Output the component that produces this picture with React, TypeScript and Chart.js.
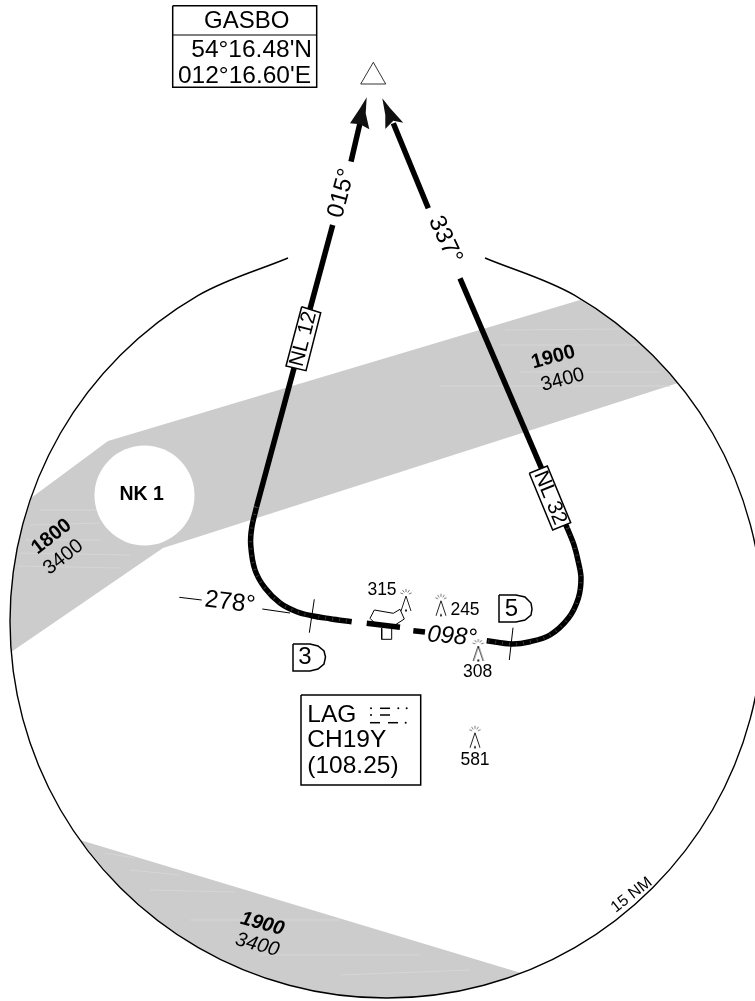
import React, { useEffect, useRef } from "react";
import { Chart, registerables } from "chart.js";

Chart.register(...registerables);

type P = [number, number];

const ring: P[] = [[485,258],[574.75,295.4],[652.7,355.3],[712.6,433.25],[750.2,524.1],[763,621.5],[750.2,718.9],[712.6,809.75],[652.7,887.7],[574.75,947.6],[483.9,985.2],[386.5,998],[289.1,985.2],[198.25,947.6],[120.3,887.7],[60.4,809.75],[22.8,718.9],[10,621.5],[22.8,524.1],[60.4,433.25],[120.3,355.3],[198.25,295.4],[288,258]];
const upperBand: P[] = [[580,300],[108,441],[31,498],[21.3,530],[15.1,560],[11.3,590],[10,620],[11.2,652],[163,548],[182,542],[678,383],[656.5,359],[631.5,335.6],[606.5,316]];
const lowerBand: P[] = [[80,840],[521,973],[486.5,984.5],[436.5,994.7],[386.5,998],[336.5,994.7],[286.5,984.5],[236.5,966.8],[196.5,946.5],[156.5,919.6],[116.5,883.9]];
const holdingClear: P[] = [[144.5,495.5]];
const bandStreaks: P[][] = [
  [[40,510],[105,510]],
  [[30,525],[100,523]],
  [[25,540],[100,540]],
  [[20,553],[130,555]],
  [[18,566],[120,568]],
  [[505,330],[620,329]],
  [[500,345],[640,345]],
  [[520,372],[660,372]],
  [[440,386],[670,386]],
  [[105,853],[135,858]],
  [[130,870],[180,875]],
  [[150,890],[235,892]],
  [[190,920],[340,920]],
  [[260,955],[420,955]],
  [[340,975],[470,970]],
];

const leftUpper: P[] = [[360,123],[351,161.7]];
const leftLower: P[] = [[332.7,225],[256.5,507]];
const leftTurn: P[] = [[256.5,507],[251.7,528],[250.7,545],[255,570],[265,588],[280,603],[296.7,611.7],[311.7,615.7],[330,618.7],[351.7,621.7]];
const rightUpper: P[] = [[393.3,123.3],[428.3,208.3]];
const rightLower: P[] = [[460,278.3],[567.3,528.3]];
const rightTurn: P[] = [[567.3,528.3],[574,545],[578.3,561.7],[581,578.3],[578.3,598.3],[568.3,618.3],[550,635],[530,641.7],[511.7,644],[486.7,640.7]];
const runwayA: P[] = [[366.7,623.3],[400,627.3]];
const runwayB: P[] = [[413.3,630.7],[425,632]];
const leftArrow: P[] = [[366.7,97.3],[365.7,113.3],[369.3,129.3],[360,124.3],[350,123.3],[360,108.3]];
const rightArrow: P[] = [[382.3,98.3],[390,108],[403.3,122.7],[393.3,120.7],[385,129.3],[385.3,115]];
const fixTriangle: P[] = [[373.3,62.3],[360.7,84],[385.7,84],[373.3,62.3]];

const tickLeft: P[] = [[314.3,599.3],[309.3,632.7]];
const tickRight: P[] = [[513,627.7],[509.3,660]];
const leaderA: P[] = [[179.3,597.3],[201.7,600]];
const leaderB: P[] = [[262.3,609],[290,613]];
const airportOutline: P[] = [[376.7,625],[370,618.3],[374.3,610],[393.3,613.3],[400,609.3],[404.3,619],[395,625]];
const airportStem: P[] = [[381.7,628.3],[381.7,639.3],[391.7,639.3],[391.7,628.3]];

const fixBox: P[] = [[172.7,5.7],[316.7,5.7],[316.7,87.3],[172.7,87.3],[172.7,5.7]];
const fixDivider: P[] = [[172.7,35],[316.7,35]];
const navBox: P[] = [[301,695],[420.7,695],[420.7,785],[301,785],[301,695]];
const airwayBoxA: P[] = [[301.7,306.7],[320.7,312.7],[306,370.7],[286,366],[301.7,306.7]];
const airwayBoxB: P[] = [[529.3,473.3],[547.3,466],[570.7,522.7],[552.7,530],[529.3,473.3]];
const sectorBox3: P[] = [[293,644],[310,644],[318,646],[324,651],[325.5,657],[324,664],[318,669],[310,671],[293,671],[293,644]];
const sectorBox5: P[] = [[499,595],[516,595],[525,597],[531,603],[532,609],[531,615],[525,620],[516,622],[499,622],[499,595]];

const morseDashes: P[][] = [
  [[380,708.3],[390,708.3]],
  [[380,715],[390,715]],
  [[370,722.7],[380,722.7]],
  [[388,722.7],[398,722.7]],
];
const morseDots: P[] = [[371,708.3],[398.3,708.3],[406.7,708.3],[371,715],[405.7,722.7]];
const obstacles: P[] = [[406,600],[441,604.7],[478.3,650],[475,736.7]];

type Label = { t: string; x: number; y: number; r: number; f: string };
const labels: Label[] = [
  { t: "GASBO", x: 246.7, y: 21, r: 0, f: "24px" },
  { t: "015°", x: 341.7, y: 193.3, r: -75, f: "24px" },
  { t: "337°", x: 445, y: 240, r: 65, f: "24px" },
  { t: "NL 12", x: 303.6, y: 339, r: -75.5, f: "21px" },
  { t: "NL 32", x: 550, y: 498, r: 67.6, f: "21px" },
  { t: "278°", x: 230, y: 602.7, r: 7, f: "24.5px" },
  { t: "098°", x: 452, y: 636.7, r: 5, f: "italic 24px" },
  { t: "3", x: 305, y: 657.5, r: 0, f: "24px" },
  { t: "5", x: 511.5, y: 609, r: 0, f: "24px" },
  { t: "NK 1", x: 141.7, y: 495, r: 0, f: "bold 19.5px" },
  { t: "1900", x: 553.3, y: 357.3, r: -15, f: "bold 20px" },
  { t: "3400", x: 562.7, y: 380, r: -15, f: "20px" },
  { t: "1800", x: 51.7, y: 536.7, r: -38, f: "bold 20px" },
  { t: "3400", x: 63.3, y: 557.3, r: -38, f: "20px" },
  { t: "1900", x: 262.3, y: 924, r: 15, f: "italic bold 20px" },
  { t: "3400", x: 257.3, y: 945, r: 15, f: "italic 20px" },
  { t: "15 NM", x: 631.7, y: 895, r: -38, f: "16px" },
  { t: "315", x: 382, y: 590, r: 0, f: "17.5px" },
  { t: "245", x: 465, y: 610.5, r: 0, f: "17.5px" },
  { t: "308", x: 477.7, y: 672, r: 0, f: "17.5px" },
  { t: "581", x: 475, y: 760, r: 0, f: "17.5px" },
];
const leftTexts: Label[] = [
  { t: "LAG", x: 307.3, y: 721.7, r: 0, f: "24.5px" },
  { t: "CH19Y", x: 307.3, y: 747.3, r: 0, f: "24.5px" },
  { t: "(108.25)", x: 307.3, y: 773, r: 0, f: "24.5px" },
];
const rightTexts: Label[] = [
  { t: "54°16.48'N", x: 312, y: 57, r: 0, f: "24.5px" },
  { t: "012°16.60'E", x: 311, y: 82.7, r: 0, f: "24.5px" },
];

const FAMILY = '"Liberation Sans", Arial, sans-serif';

function obstacleIcon(): HTMLCanvasElement {
  const c = document.createElement("canvas");
  c.width = 24;
  c.height = 30;
  const g = c.getContext("2d")!;
  g.strokeStyle = "#222";
  g.lineWidth = 1;
  g.beginPath();
  g.moveTo(7, 26);
  g.lineTo(12, 11);
  g.lineTo(17, 26);
  g.stroke();
  g.fillStyle = "#222";
  g.fillRect(11, 24.5, 2, 2);
  g.strokeStyle = "#777";
  [-70, -35, 0, 35, 70].forEach((a) => {
    const s = (a * Math.PI) / 180;
    g.beginPath();
    g.moveTo(12 + Math.sin(s) * 3, 10 - Math.cos(s) * 3);
    g.lineTo(12 + Math.sin(s) * 6, 10 - Math.cos(s) * 6);
    g.stroke();
  });
  return c;
}

const textPlugin = {
  id: "mapText",
  afterDatasetsDraw(chart: any) {
    const { ctx, scales } = chart;
    const put = (l: Label, align: CanvasTextAlign, base: CanvasTextBaseline) => {
      ctx.save();
      ctx.translate(scales.x.getPixelForValue(l.x), scales.y.getPixelForValue(l.y));
      ctx.rotate((l.r * Math.PI) / 180);
      ctx.font = `${l.f} ${FAMILY}`;
      ctx.fillStyle = "#000";
      ctx.textAlign = align;
      ctx.textBaseline = base;
      ctx.fillText(l.t, 0, 0);
      ctx.restore();
    };
    labels.forEach((l) => put(l, "center", "middle"));
    leftTexts.forEach((l) => put(l, "left", "alphabetic"));
    rightTexts.forEach((l) => put(l, "right", "alphabetic"));
  },
};

export default function App() {
  const ref = useRef<HTMLCanvasElement>(null);
  useEffect(() => {
    const line = (pts: P[], o: any = {}) => ({
      type: "line",
      data: pts.map(([x, y]) => ({ x, y })),
      borderColor: "#000",
      borderWidth: 1,
      pointRadius: 0,
      fill: false,
      tension: 0,
      borderCapStyle: "butt",
      ...o,
    });
    const area = (pts: P[], color: string) =>
      line(pts, { fill: "shape", backgroundColor: color, borderWidth: 0, borderColor: color });
    const box = (pts: P[], w = 1.5) => line(pts, { fill: "shape", backgroundColor: "#fff", borderWidth: w });
    const track = (pts: P[]) => line(pts, { borderWidth: 5.5 });
    const turn = (pts: P[]) => line(pts, { borderWidth: 5.5, tension: 0.35 });
    const hatch = (pts: P[]) => line(pts, { borderWidth: 3, tension: 0.35, borderColor: "#3a3a3a", borderDash: [1, 6] });

    const layers: any[] = [
      area(upperBand, "#cccccc"),
      area(lowerBand, "#cccccc"),
      ...bandStreaks.map((s) => line(s, { borderColor: "#d6d6d6", borderWidth: 1 })),
      line(holdingClear, { showLine: false, pointRadius: 50, pointBackgroundColor: "#fff", pointBorderWidth: 0 }),
      line(ring, { borderWidth: 1.4, tension: 0.34 }),
      line(fixTriangle, { borderWidth: 0.8 }),
      track(leftUpper),
      track(leftLower),
      turn(leftTurn),
      hatch(leftTurn),
      track(rightUpper),
      track(rightLower),
      turn(rightTurn),
      hatch(rightTurn),
      track(runwayA),
      track(runwayB),
      area(leftArrow, "#111"),
      area(rightArrow, "#111"),
      line(tickLeft),
      line(tickRight),
      line(leaderA),
      line(leaderB),
      line(airportOutline),
      line(airportStem),
      box(fixBox),
      line(fixDivider),
      box(navBox),
      box(airwayBoxA),
      box(airwayBoxB),
      box(sectorBox3),
      box(sectorBox5),
      ...morseDashes.map((d) => line(d, { borderWidth: 1.5 })),
      line(morseDots, { showLine: false, pointRadius: 1, pointBackgroundColor: "#000", pointBorderWidth: 0 }),
      line(obstacles, { showLine: false, pointRadius: 15, pointStyle: obstacleIcon() }),
    ];
    layers.forEach((d, i) => (d.order = layers.length - i));

    const chart = new Chart(ref.current!, {
      type: "line",
      data: { datasets: layers },
      options: {
        responsive: false,
        animation: false,
        layout: { padding: 0, autoPadding: false },
        elements: { line: { capBezierPoints: false } },
        plugins: { legend: { display: false }, tooltip: { enabled: false } },
        events: [],
        scales: {
          x: { type: "linear", min: 0, max: 755, display: false },
          y: { type: "linear", min: 0, max: 1001, reverse: true, display: false },
        },
      },
      plugins: [textPlugin],
    } as any);
    return () => chart.destroy();
  }, []);
  return (
    <div style={{ position: "absolute", left: 0, top: 0, width: 755, height: 1001, background: "#fff" }}>
      <canvas ref={ref} width={755} height={1001} style={{ display: "block" }} />
    </div>
  );
}
